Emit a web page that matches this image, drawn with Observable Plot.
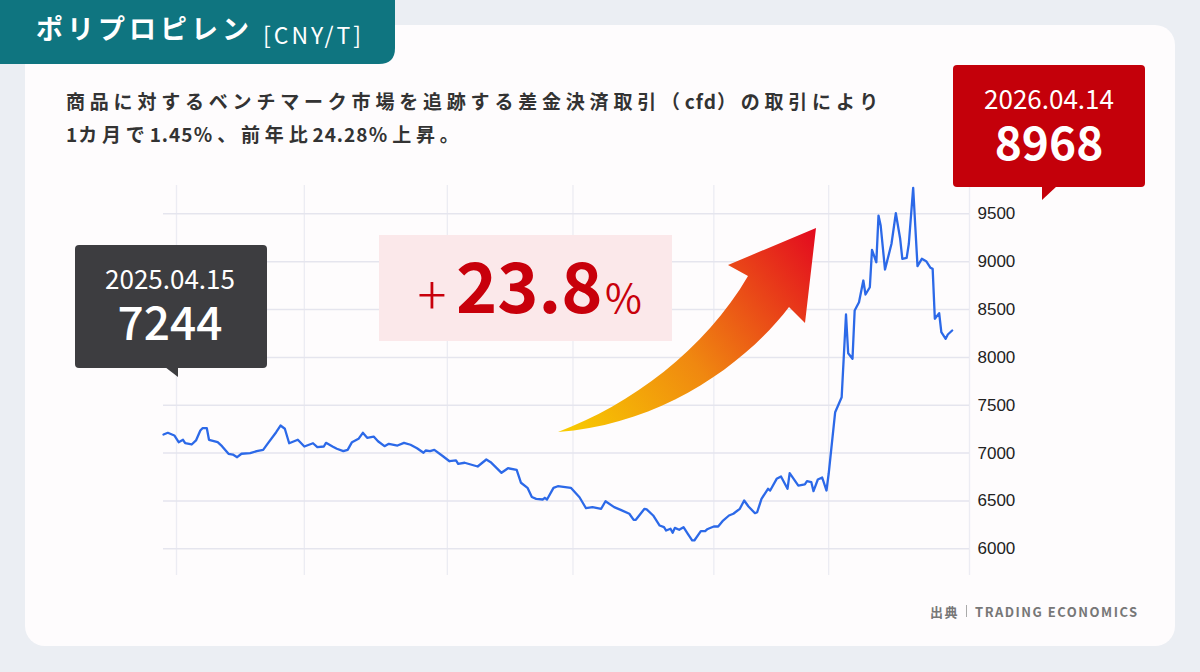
<!DOCTYPE html>
<html><head><meta charset="utf-8">
<script src="https://cdn.jsdelivr.net/npm/d3@7"></script>
<script src="https://cdn.jsdelivr.net/npm/@observablehq/plot@0.6"></script>
<style>
html,body{margin:0;padding:0;}
body{width:1200px;height:672px;background:#ebeef3;position:relative;overflow:hidden;font-family:"Noto Sans CJK JP","Noto Sans",sans-serif;}
#card{position:absolute;left:25px;top:25px;width:1150px;height:621px;background:#fefcfd;border-radius:20px;}
#chart{position:absolute;left:0;top:165px;}
#ov{position:absolute;left:0;top:0;pointer-events:none;}
#ov text{font-family:"Noto Sans CJK JP","Noto Sans",sans-serif;}
</style>
</head><body>
<div id="card"></div>
<div id="chart"></div>
<svg id="ov" width="1200" height="672" xmlns="http://www.w3.org/2000/svg">
  <defs>
    <linearGradient id="ag" gradientUnits="userSpaceOnUse" x1="560" y1="432" x2="816" y2="228">
      <stop offset="0" stop-color="#f8cd00"/>
      <stop offset="0.45" stop-color="#f08810"/>
      <stop offset="1" stop-color="#e3091f"/>
    </linearGradient>
  </defs>
  <!-- header tab -->
  <path d="M0,0 H395 V48 Q395,64 379,64 H0 Z" fill="#0f7580"/>
  <text x="36" y="39" fill="#fff" font-size="27" font-weight="700" letter-spacing="4">ポリプロピレン</text>
  <text x="263" y="44" fill="#fff" font-size="23" font-weight="400" letter-spacing="3">[CNY/T]</text>
  <!-- subtitle -->
  <text x="66" y="109" fill="#333" font-size="19" font-weight="700"><tspan letter-spacing="4.8">商品に対するベンチマーク市場を追跡する差金決済取引（</tspan><tspan letter-spacing="1">cfd</tspan><tspan letter-spacing="4.8">）の取引により</tspan></text>
  <text x="66" y="141.5" fill="#333" font-size="19" font-weight="700"><tspan letter-spacing="1">1</tspan><tspan letter-spacing="4.8">カ月で</tspan><tspan letter-spacing="1">1.45</tspan><tspan letter-spacing="4.8">％、前年比</tspan><tspan letter-spacing="1">24.28</tspan><tspan letter-spacing="4.8">％上昇。</tspan></text>
  <!-- change box -->
  <rect x="379" y="235" width="293" height="106" fill="#fbe8ea"/>
  <text x="432" y="315" fill="#c8000b" font-size="54" font-weight="300" text-anchor="middle">+</text>
  <text x="456" y="313" fill="#c8000b" font-size="70" font-weight="700">23.8</text>
  <text x="605" y="313" fill="#c8000b" font-size="40" font-weight="400">%</text>
  <!-- arrow -->
  <path d="M558,432 C630,405 705,350 748,276 L728,265 L816,228 L805,323 L789,307 C745,365 660,425 558,432 Z" fill="url(#ag)"/>
  <!-- start callout -->
  <rect x="75" y="245" width="192" height="123" rx="4" fill="#3d3d40"/>
  <path d="M165,367 L178,367 L178,377 Z" fill="#3d3d40"/>
  <text x="170" y="289" fill="#fff" font-size="26" font-weight="400" text-anchor="middle">2025.04.15</text>
  <text x="170" y="340" fill="#fff" font-size="46" font-weight="500" text-anchor="middle">7244</text>
  <!-- end callout -->
  <rect x="953" y="65" width="192" height="122" rx="4" fill="#c4000a"/>
  <path d="M1042,186 L1057,186 L1042,200 Z" fill="#c4000a"/>
  <text x="1049" y="109" fill="#fff" font-size="26" font-weight="400" text-anchor="middle">2026.04.14</text>
  <text x="1049" y="160" fill="#fff" font-size="46" font-weight="700" text-anchor="middle">8968</text>
  <!-- source -->
  <text x="930" y="616.5" fill="#777" font-size="13" font-weight="700" letter-spacing="1.5">出典</text>
  <line x1="966.5" x2="966.5" y1="605" y2="617" stroke="#aaa" stroke-width="1"/>
  <text x="975" y="616.5" fill="#777" font-size="13" font-weight="700" letter-spacing="1.5">TRADING ECONOMICS</text>
</svg>
<script>
// days since 2025-04-15
const days = [0,2,5,7,9,10,13,15,17,18,20,21,25,27,30,32,34,36,40,43,46,48,52,54,56,58,62,65,69,71,74,75,78,80,83,85,87,90,92,94,97,99,102,104,108,111,114,117,120,121,123,125,129,132,135,136,139,145,149,151,156,159,163,165,168,170,172,175,176,177,180,182,188,192,195,198,202,204,208,211,215,217,218,222,223,226,229,231,232,234,235,236,238,240,242,244,245,248,250,251,252,254,256,258,261,263,266,268,270,273,274,276,279,280,283,285,288,289,293,296,297,299,300,302,304,306,307,310,313,315,316,318,319,321,323,324,326,327,329,330,331,333,336,338,340,341,343,344,346,347,348,350,352,354,355,356,358,359,361,362,364];
const prices = [7194,7212,7184,7114,7139,7103,7090,7132,7236,7260,7260,7139,7114,7072,6993,6985,6957,6993,6999,7020,7034,7097,7218,7288,7254,7103,7139,7069,7103,7062,7069,7107,7069,7045,7020,7034,7114,7149,7212,7160,7173,7124,7072,7097,7079,7107,7087,7051,7003,7027,7020,7034,6967,6915,6923,6888,6899,6860,6933,6905,6794,6842,6825,6690,6637,6541,6522,6515,6533,6515,6637,6654,6637,6539,6424,6435,6418,6497,6435,6407,6366,6303,6303,6418,6411,6348,6243,6226,6191,6209,6167,6219,6199,6226,6157,6087,6087,6184,6184,6205,6215,6233,6233,6288,6348,6366,6418,6505,6442,6372,6382,6522,6627,6609,6731,6755,6627,6790,6661,6672,6706,6696,6602,6724,6745,6609,6784,7427,7584,8448,8044,7985,8490,8576,8803,8657,8733,9124,8994,9482,9378,8918,9187,9506,9239,9030,9040,9187,9772,9360,8953,9030,9005,8936,8925,8403,8462,8263,8194,8239,8281];
const gridDays = [6,65,131,189,254,307,372];
const yTicks = [6000,6500,7000,7500,8000,8500,9000,9500];

const data = days.map((d, i) => ({day: d, price: prices[i]}));

const chart = Plot.plot({
  width: 1200,
  height: 420,
  marginTop: 20,
  marginBottom: 10,
  marginLeft: 163,
  marginRight: 231,
  x: {domain: [0, 372], axis: null},
  y: {domain: [5721, 9796], axis: null},
  style: {background: "transparent", fontFamily: "'Liberation Sans', Arial, sans-serif", fontSize: "17px", color: "#222", overflow: "visible"},
  marks: [
    Plot.ruleX(gridDays, {stroke: "#ececf3", strokeWidth: 1.3}),
    Plot.gridY(yTicks, {stroke: "#e5e5ee", strokeOpacity: 1, strokeWidth: 1.5}),
    Plot.axisY(yTicks, {anchor: "right", tickSize: 0, tickPadding: 8, label: null, tickFormat: d => String(d), fill: "#222"}),
    Plot.line(data, {x: "day", y: "price", stroke: "#2c69e8", strokeWidth: 2.3})
  ]
});
document.getElementById("chart").appendChild(chart);
</script>
</body></html>
